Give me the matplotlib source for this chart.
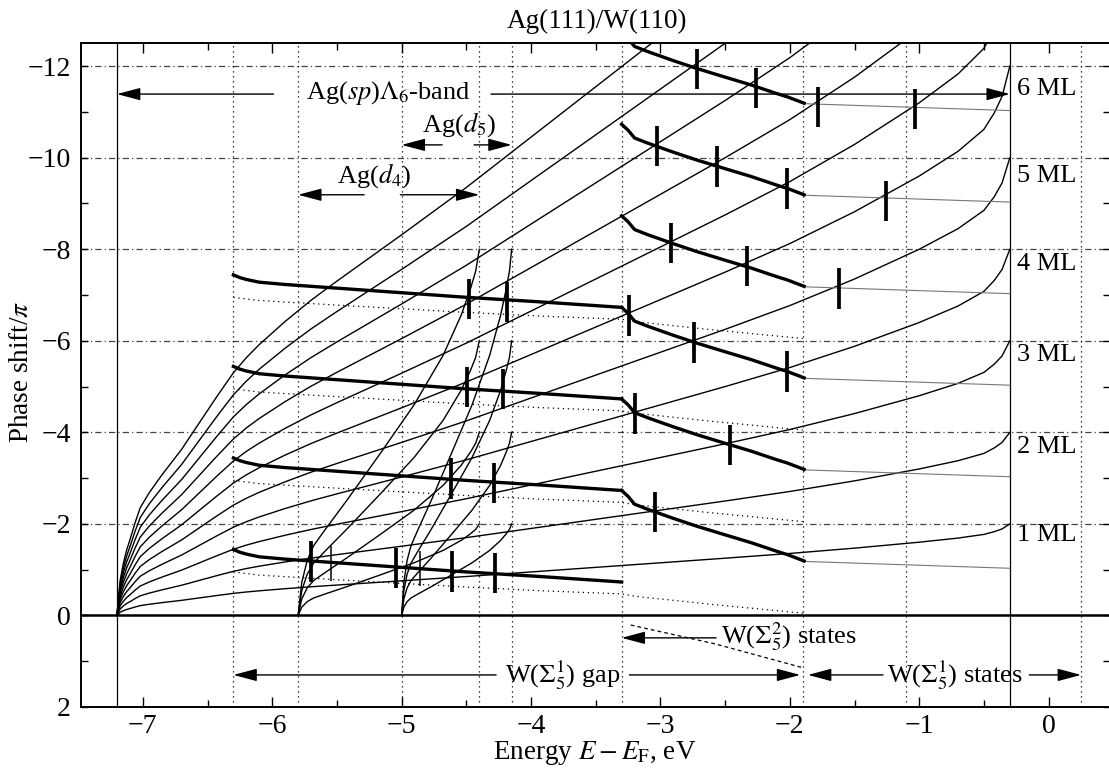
import matplotlib
matplotlib.use('Agg')
from matplotlib import pyplot as plt
import numpy as np

plt.rcParams['font.family'] = ['Liberation Serif', 'DejaVu Serif']
plt.rcParams['mathtext.fontset'] = 'stix'
plt.rcParams['font.size'] = 18

# Ag(sp) band: phase shift / pi for one monolayer, N ML curve = N times this
sp_energy = [-7.2, -7.19, -7.175, -7.15, -7.125, -7.1, -7.06, -7.02, -6.95, -6.85, -6.7,
             -6.56, -6.43, -6.3, -6.2, -6.1, -5.9, -5.7, -5.5, -5.25, -5.0, -4.5, -4.0,
             -3.5, -3.0, -2.5, -2.0, -1.5, -1.0, -0.7, -0.5, -0.42, -0.36, -0.3]
sp_phase_1ml = [0.0, -0.03, -0.07, -0.104, -0.13, -0.15, -0.184, -0.214, -0.244, -0.28, -0.33,
                -0.384, -0.434, -0.482, -0.512, -0.538, -0.584, -0.626, -0.664, -0.71, -0.756, -0.85, -0.95,
                -1.05, -1.15, -1.25, -1.354, -1.47, -1.6, -1.69, -1.77, -1.83, -1.89, -2.0]
sp_layers = [1, 2, 3, 4, 5, 6, 7, 8, 9, 10, 11]

# Ag(d4) and Ag(d5) bands
d4_energy = [-5.8, -5.772, -5.73, -5.681, -5.59, -5.422, -5.17, -4.904, -4.68, -4.54, -4.47, -4.428, -4.4]
d5_energy = [-5.0, -4.983, -4.958, -4.928, -4.873, -4.77, -4.618, -4.456, -4.32, -4.235, -4.193, -4.167, -4.15]
d_phase_1ml = [0.0, -0.18, -0.30, -0.38, -0.47, -0.63, -0.88, -1.15, -1.42, -1.64, -1.78, -1.88, -2.0]
d_layers = [1, 2, 3, 4]

# W(110) reflection phase curves (thick), offset from -2n
gap_left_energy = [-6.3, -6.25, -6.2, -6.1, -5.9, -5.5, -5.0, -4.5, -3.93, -3.3]
gap_left_offset = [0.56, 0.62, 0.66, 0.72, 0.77, 0.85, 0.95, 1.05, 1.15, 1.27]
gap_left_orders = [1, 2, 3, 4]
gap_right_energy = [-3.3, -3.25, -3.2, -3.1, -3.03, -2.9, -2.72, -2.5, -2.3, -2.1, -2.02, -1.89]
gap_right_offset = [1.27, 1.4, 1.57, 1.68, 1.75, 1.88, 2.05, 2.24, 2.41, 2.6, 2.67, 2.81]
gap_right_orders = [2, 3, 4, 5, 6, 7]

# dotted companions
dot_energy = [-6.3, -6.1, -5.5, -5.0, -4.5, -3.93, -3.3, -3.2, -2.6, -1.9]
dot_offset = [1.05, 1.12, 1.22, 1.3, 1.38, 1.46, 1.53, 1.58, 1.76, 1.95]
dot_orders = [1, 2, 3, 4]

# thin grey continuation beyond the gap
tail_energy = [-1.89, -0.3]
tail_offset = [2.82, 2.97]
tail_orders = [2, 3, 4, 5, 6, 7]

# W(Sigma5^2) states (dashed, below zero)
sigma2_energy = [-3.23, -2.58, -1.89]
sigma2_phase = [0.21, 0.62, 1.15]

# quantum well states (thick bars) and d-band crossings (thin bars)
qw_energy = [-2.72, -2.26, -1.78, -1.03, -3.03, -2.56, -2.02, -1.26, -2.915, -2.33, -1.62,
             -3.24, -2.74, -2.02, -3.20, -2.46, -3.04, -4.476, -4.187, -4.496, -4.22,
             -4.62, -4.29, -5.70, -5.045, -4.61, -4.28]
qw_phase = [-11.93, -11.53, -11.11, -11.06, -10.25, -9.81, -9.33, -9.05, -8.13, -7.63, -7.14,
            -6.55, -5.96, -5.33, -4.41, -3.72, -2.26, -6.92, -6.85, -4.99, -4.95,
            -2.99, -2.90, -1.18, -1.04, -0.96, -0.92]
qw_thin_energy = [-5.544, -4.86]
qw_thin_phase = [-1.14, -1.03]

grid_phase = [-12, -10, -8, -6, -4, -2]
edge_energy = [-7.2, -0.3]
mark_energy = [-6.3, -5.8, -5.0, -4.4, -4.15, -3.3, -1.9, -1.1, 0.25]
ml_labels = ['1 ML', '2 ML', '3 ML', '4 ML', '5 ML', '6 ML']
ml_label_phase = [-1.75, -3.67, -5.68, -7.68, -9.6, -11.5]

fig = plt.figure(figsize=(11.09, 7.74), dpi=100)
ax = fig.add_axes([0.0728, 0.0866, 0.9281, 0.8575])
ax.set_xlim(-7.48, 0.474)
ax.set_ylim(2, -12.5)

# grid
for g in grid_phase:
    ax.axhline(g, color='#444444', lw=0.9, dashes=(5, 2.5, 1, 2.5), zorder=1)
for m in mark_energy:
    ax.axvline(m, color='black', lw=0.9, dashes=(1, 3), zorder=1)
for e in edge_energy:
    ax.axvline(e, color='black', lw=0.9, zorder=2)
ax.axhline(0, color='black', lw=1.8, zorder=3)

# Ag sp band
sp_e = np.array(sp_energy)
sp_p = np.array(sp_phase_1ml)
for n in sp_layers:
    ax.plot(sp_e, n * sp_p, color='black', lw=1.0, zorder=3)

# Ag d bands
d_p = np.array(d_phase_1ml)
for n in d_layers:
    ax.plot(d4_energy, n * d_p, color='black', lw=1.0, zorder=3)
    ax.plot(d5_energy, n * d_p, color='black', lw=1.0, zorder=3)

# W gap phase, thick
for n in gap_left_orders:
    ax.plot(gap_left_energy, np.array(gap_left_offset) - 2 * n, color='black', lw=2.4, zorder=4)
for n in gap_right_orders:
    ax.plot(gap_right_energy, np.array(gap_right_offset) - 2 * n, color='black', lw=2.4, zorder=4)
for n in dot_orders:
    ax.plot(dot_energy, np.array(dot_offset) - 2 * n, color='black', lw=0.9, dashes=(1, 3), zorder=3)
for n in tail_orders:
    ax.plot(tail_energy, np.array(tail_offset) - 2 * n, color='#777777', lw=0.8, zorder=3)
ax.plot(sigma2_energy, sigma2_phase, color='black', lw=0.9, dashes=(3, 2.5), zorder=3)

# state markers
for e, p in zip(qw_energy, qw_phase):
    ax.plot([e, e], [p - 0.44, p + 0.44], color='black', lw=2.7, solid_capstyle='butt', zorder=5)
for e, p in zip(qw_thin_energy, qw_thin_phase):
    ax.plot([e, e], [p - 0.38, p + 0.38], color='black', lw=1.1, solid_capstyle='butt', zorder=5)

# arrows and labels
arrow = dict(arrowstyle='-|>,head_length=1.2,head_width=0.32', color='black', lw=1.0,
             mutation_scale=12, shrinkA=0, shrinkB=0)


def harrow(x0, x1, y):
    ax.annotate('', xy=(x1, y), xytext=(x0, y), arrowprops=arrow, zorder=6)


fs = 19
ax.text(-5.10, -11.42, r'Ag($sp$)$\Lambda_6$-band', ha='center', va='center', fontsize=fs)
harrow(-5.99, -7.2, -11.39)
harrow(-4.31, -0.3, -11.39)

ax.text(-4.552, -10.72, r'Ag($d_5$)', ha='center', va='center', fontsize=fs)
harrow(-4.687, -5.0, -10.28)
harrow(-4.44, -4.15, -10.28)

ax.text(-5.21, -9.61, r'Ag($d_4$)', ha='center', va='center', fontsize=fs)
harrow(-5.29, -5.8, -9.19)
harrow(-5.01, -4.4, -9.19)

ax.text(-2.53, 0.47, r'W($\Sigma_5^2$) states', ha='left', va='center', fontsize=fs, zorder=6)
harrow(-2.57, -3.3, 0.49)

ax.text(-3.756, 1.30, r'W($\Sigma_5^1$) gap', ha='center', va='center', fontsize=fs)
harrow(-4.27, -6.3, 1.30)
harrow(-3.24, -1.92, 1.30)

ax.text(-0.72, 1.30, r'W($\Sigma_5^1$) states', ha='center', va='center', fontsize=fs)
harrow(-1.28, -1.86, 1.30)
harrow(-0.15, 0.25, 1.30)

for lab, p in zip(ml_labels, ml_label_phase):
    ax.text(-0.245, p, lab, ha='left', va='center', fontsize=fs)

# axes styling
ax.set_xticks(range(-7, 1))
ax.set_xticks(np.arange(-7.0, 0.5, 0.5), minor=True)
ax.set_yticks(range(-12, 3, 2))
ax.set_yticks(range(-12, 3), minor=True)
ax.tick_params(which='both', direction='in', top=True, right=True, labelsize=20)
ax.tick_params(axis='x', which='major', length=7, width=1.0, pad=5)
ax.tick_params(axis='x', which='minor', length=5, width=1.0)
ax.tick_params(axis='y', which='both', length=5, width=1.0, pad=7)
for s in ax.spines.values():
    s.set_linewidth(1.4)

fig.text(597 / 1109, 1 - 21 / 774, 'Ag(111)/W(110)', ha='center', va='center', fontsize=19.5)
fig.text(595 / 1109, 1 - 753 / 774, r'Energy $E - E_{\rm F}$, eV', ha='center', va='center', fontsize=19.5)
fig.text(22 / 1109, 1 - 372 / 774, r'Phase shift/$\pi$', ha='center', va='center', rotation=90, fontsize=19.5)

fig.savefig('out.png', dpi=100)
